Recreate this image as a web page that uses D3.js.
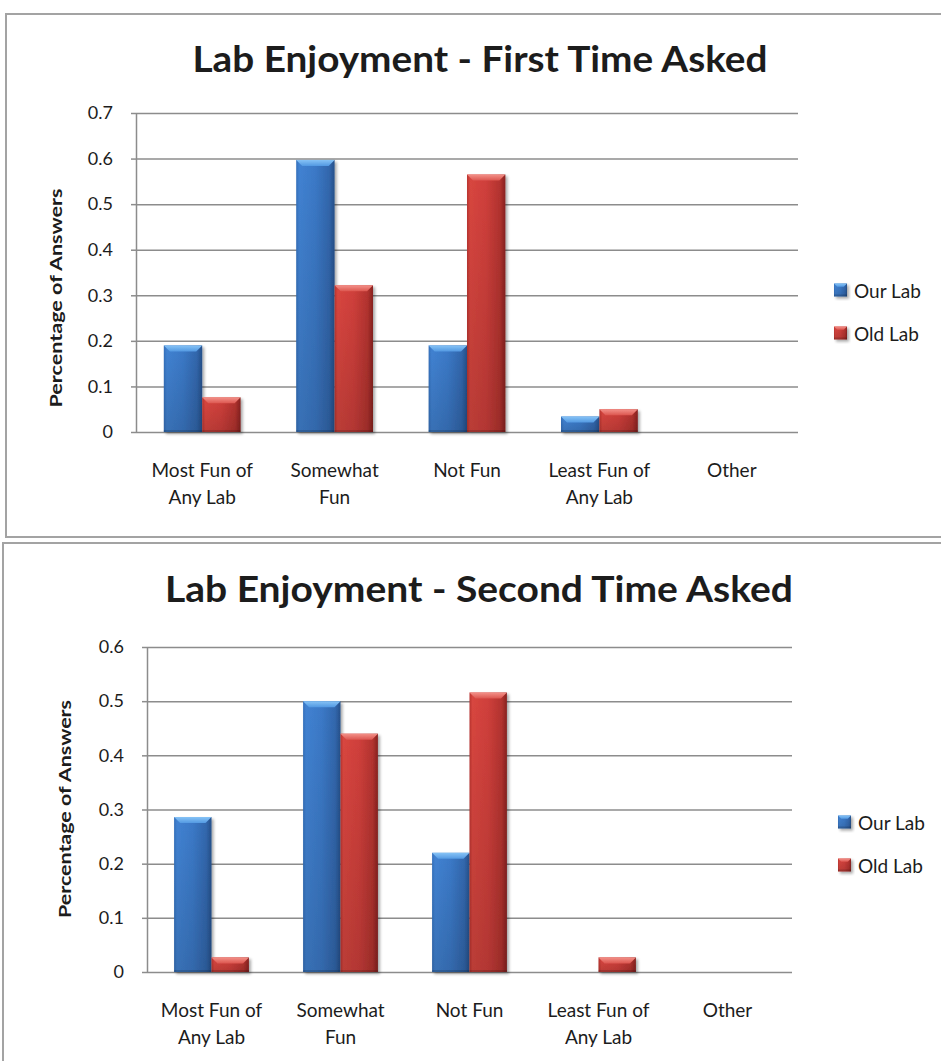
<!DOCTYPE html>
<html>
<head>
<meta charset="utf-8">
<script src="https://cdn.jsdelivr.net/npm/d3@7"></script>
<style>
  html, body { margin: 0; padding: 0; background: #fff; }
  svg { display: block; }
  text { font-family: Lato, "Open Sans", sans-serif; fill: #1c1c1c; }
</style>
</head>
<body>
<svg id="chart" width="941" height="1061"></svg>
<script>
// Survey answers, as share of respondents
const categories = ["Most Fun of Any Lab", "Somewhat Fun", "Not Fun", "Least Fun of Any Lab", "Other"];
const categoryLines = [["Most Fun of", "Any Lab"], ["Somewhat", "Fun"], ["Not Fun"], ["Least Fun of", "Any Lab"], ["Other"]];
const seriesNames = ["Our Lab", "Old Lab"];

const firstOurLab  = [0.19, 0.597, 0.19, 0.034, 0];
const firstOldLab  = [0.076, 0.322, 0.565, 0.05, 0];
const secondOurLab = [0.286, 0.50, 0.22, 0, 0];
const secondOldLab = [0.027, 0.44, 0.516, 0.027, 0];

const firstTicks  = [0, 0.1, 0.2, 0.3, 0.4, 0.5, 0.6, 0.7];
const secondTicks = [0, 0.1, 0.2, 0.3, 0.4, 0.5, 0.6];

const svg = d3.select("#chart");
const defs = svg.append("defs");

// Bevelled bar palettes
const palettes = {
  blue: {
    body: ["#3470bb", "#4182d2", "#3b79c7", "#3267ad", "#26508a"],
    bevel: ["#86c3f6", "#5399e2"]
  },
  red: {
    body: ["#b9342f", "#d8463f", "#cf3f3b", "#b3332f", "#882220"],
    bevel: ["#f39189", "#dc5650"]
  }
};
const stops = [0, 0.08, 0.5, 0.86, 1];
Object.entries(palettes).forEach(([key, p]) => {
  const gh = defs.append("linearGradient").attr("id", "body-" + key)
    .attr("x1", 0).attr("x2", 1).attr("y1", 0).attr("y2", 0);
  p.body.forEach((c, i) => gh.append("stop").attr("offset", stops[i]).attr("stop-color", c));
  const gb = defs.append("linearGradient").attr("id", "bevel-" + key)
    .attr("x1", 0).attr("x2", 0).attr("y1", 0).attr("y2", 1);
  gb.append("stop").attr("offset", 0).attr("stop-color", p.bevel[0]);
  gb.append("stop").attr("offset", 1).attr("stop-color", p.bevel[1]);
});
const shade = defs.append("linearGradient").attr("id", "shade-v")
  .attr("x1", 0).attr("x2", 0).attr("y1", 0).attr("y2", 1);
shade.append("stop").attr("offset", 0).attr("stop-color", "#000").attr("stop-opacity", 0);
shade.append("stop").attr("offset", 1).attr("stop-color", "#000").attr("stop-opacity", 0.14);

const shadow = defs.append("filter").attr("id", "bar-shadow")
  .attr("x", "-20%").attr("y", "-20%").attr("width", "150%").attr("height", "150%");
shadow.append("feGaussianBlur").attr("in", "SourceAlpha").attr("stdDeviation", 1.8).attr("result", "blur");
shadow.append("feOffset").attr("in", "blur").attr("dx", 2).attr("dy", 2).attr("result", "off");
shadow.append("feComponentTransfer").attr("in", "off").attr("result", "soft")
  .append("feFuncA").attr("type", "linear").attr("slope", 0.35);
const merge = shadow.append("feMerge");
merge.append("feMergeNode").attr("in", "soft");
merge.append("feMergeNode").attr("in", "SourceGraphic");

function drawBevelBar(g, x, y, w, h, key) {
  if (h <= 0) return;
  const b = Math.min(6, h / 2, w / 4);
  const bar = g.append("g").attr("filter", "url(#bar-shadow)");
  bar.append("rect").attr("x", x).attr("y", y).attr("width", w).attr("height", h)
    .attr("fill", `url(#body-${key})`);
  bar.append("rect").attr("x", x).attr("y", y).attr("width", w).attr("height", h)
    .attr("fill", "url(#shade-v)");
  bar.append("polygon")
    .attr("points", [[x, y], [x + w, y], [x + w - b, y + b], [x + b, y + b]].map(p => p.join(",")).join(" "))
    .attr("fill", `url(#bevel-${key})`);
  bar.append("rect").attr("x", x).attr("y", y + h - Math.min(2, h / 3)).attr("width", w)
    .attr("height", Math.min(2, h / 3)).attr("fill", "#000").attr("opacity", 0.15);
}

function drawChart(cfg) {
  const g = svg.append("g");

  // chart frame
  g.append("path")
    .attr("d", cfg.frame)
    .attr("fill", "none").attr("stroke", "#a3a3a3").attr("stroke-width", 2);

  // title
  g.append("text")
    .attr("x", cfg.titleX).attr("y", cfg.titleY)
    .attr("text-anchor", "middle")
    .attr("font-size", 36).attr("font-weight", 700)
    .attr("textLength", cfg.titleWidth).attr("lengthAdjust", "spacingAndGlyphs")
    .text(cfg.title);

  const x = d3.scaleBand().domain(categories).range([cfg.left, cfg.right])
    .paddingInner(0.42).paddingOuter(0.21);
  const xs = d3.scaleBand().domain(seriesNames).range([0, x.bandwidth()]);
  const y = d3.scaleLinear().domain([0, d3.max(cfg.ticks)]).range([cfg.bottom, cfg.top]);
  const W = cfg.right - cfg.left;

  // gridlines + tick labels
  const yAxis = g.append("g").attr("transform", `translate(${cfg.left},0)`)
    .call(d3.axisLeft(y).tickValues(cfg.ticks).tickFormat(d => d === 0 ? "0" : d3.format(".1f")(d))
      .tickSizeInner(-W).tickSizeOuter(0).tickPadding(23));
  yAxis.select(".domain").attr("stroke", "#8c8c8c").attr("stroke-width", 1.5);
  yAxis.selectAll(".tick line").attr("stroke", "#8c8c8c").attr("stroke-width", 1.5);
  yAxis.selectAll(".tick text").attr("font-size", 18).attr("fill", "#1c1c1c")
    .style("font-family", "Lato, sans-serif");

  // short outer tick marks
  const tickMarks = g.append("g").attr("transform", `translate(${cfg.left},0)`)
    .call(d3.axisLeft(y).tickValues(cfg.ticks).tickSize(5).tickFormat(""));
  tickMarks.select(".domain").remove();
  tickMarks.selectAll(".tick line").attr("stroke", "#8c8c8c").attr("stroke-width", 1.5);

  // y axis title
  g.append("text")
    .attr("transform", `translate(${cfg.yLabelX},${cfg.yLabelY}) rotate(-90)`)
    .attr("text-anchor", "middle").attr("dominant-baseline", "middle")
    .attr("font-size", 17).attr("font-weight", 700)
    .attr("textLength", cfg.yLabelWidth).attr("lengthAdjust", "spacingAndGlyphs")
    .text("Percentage of Answers");

  // bars
  const series = [
    { name: seriesNames[0], values: cfg.our, key: "blue" },
    { name: seriesNames[1], values: cfg.old, key: "red" }
  ];
  const bars = g.append("g");
  series.forEach(s => {
    s.values.forEach((v, i) => {
      const bx = x(categories[i]) + xs(s.name);
      drawBevelBar(bars, bx, y(v), xs.bandwidth(), y(0) - y(v), s.key);
    });
  });

  // category labels
  categories.forEach((c, i) => {
    const t = g.append("text")
      .attr("x", x(c) + x.bandwidth() / 2).attr("y", cfg.bottom + 45)
      .attr("text-anchor", "middle").attr("font-size", 19);
    categoryLines[i].forEach((line, j) => {
      t.append("tspan").attr("x", x(c) + x.bandwidth() / 2).attr("dy", j === 0 ? 0 : 27).text(line);
    });
  });

  // legend
  series.forEach((s, i) => {
    const ly = cfg.legendY + i * 43;
    const lg = g.append("g");
    drawBevelBar(lg, cfg.legendX, ly - 6.5, 13, 13, s.key);
    g.append("text").attr("x", cfg.legendX + 20).attr("y", ly)
      .attr("dominant-baseline", "central").attr("font-size", 19).text(s.name);
  });
}

drawChart({
  title: "Lab Enjoyment - First Time Asked",
  titleX: 480, titleY: 72, titleWidth: 575,
  frame: "M941,14 H6 V537 H941",
  left: 136, right: 798, top: 113, bottom: 432,
  ticks: firstTicks, our: firstOurLab, old: firstOldLab,
  yLabelX: 58, yLabelY: 298, yLabelWidth: 219,
  legendX: 834, legendY: 290
});

drawChart({
  title: "Lab Enjoyment - Second Time Asked",
  titleX: 479, titleY: 602, titleWidth: 628,
  frame: "M941,543 H3 V1061",
  left: 147, right: 792, top: 647, bottom: 972,
  ticks: secondTicks, our: secondOurLab, old: secondOldLab,
  yLabelX: 67, yLabelY: 809, yLabelWidth: 218,
  legendX: 838, legendY: 822
});
</script>
</body>
</html>
